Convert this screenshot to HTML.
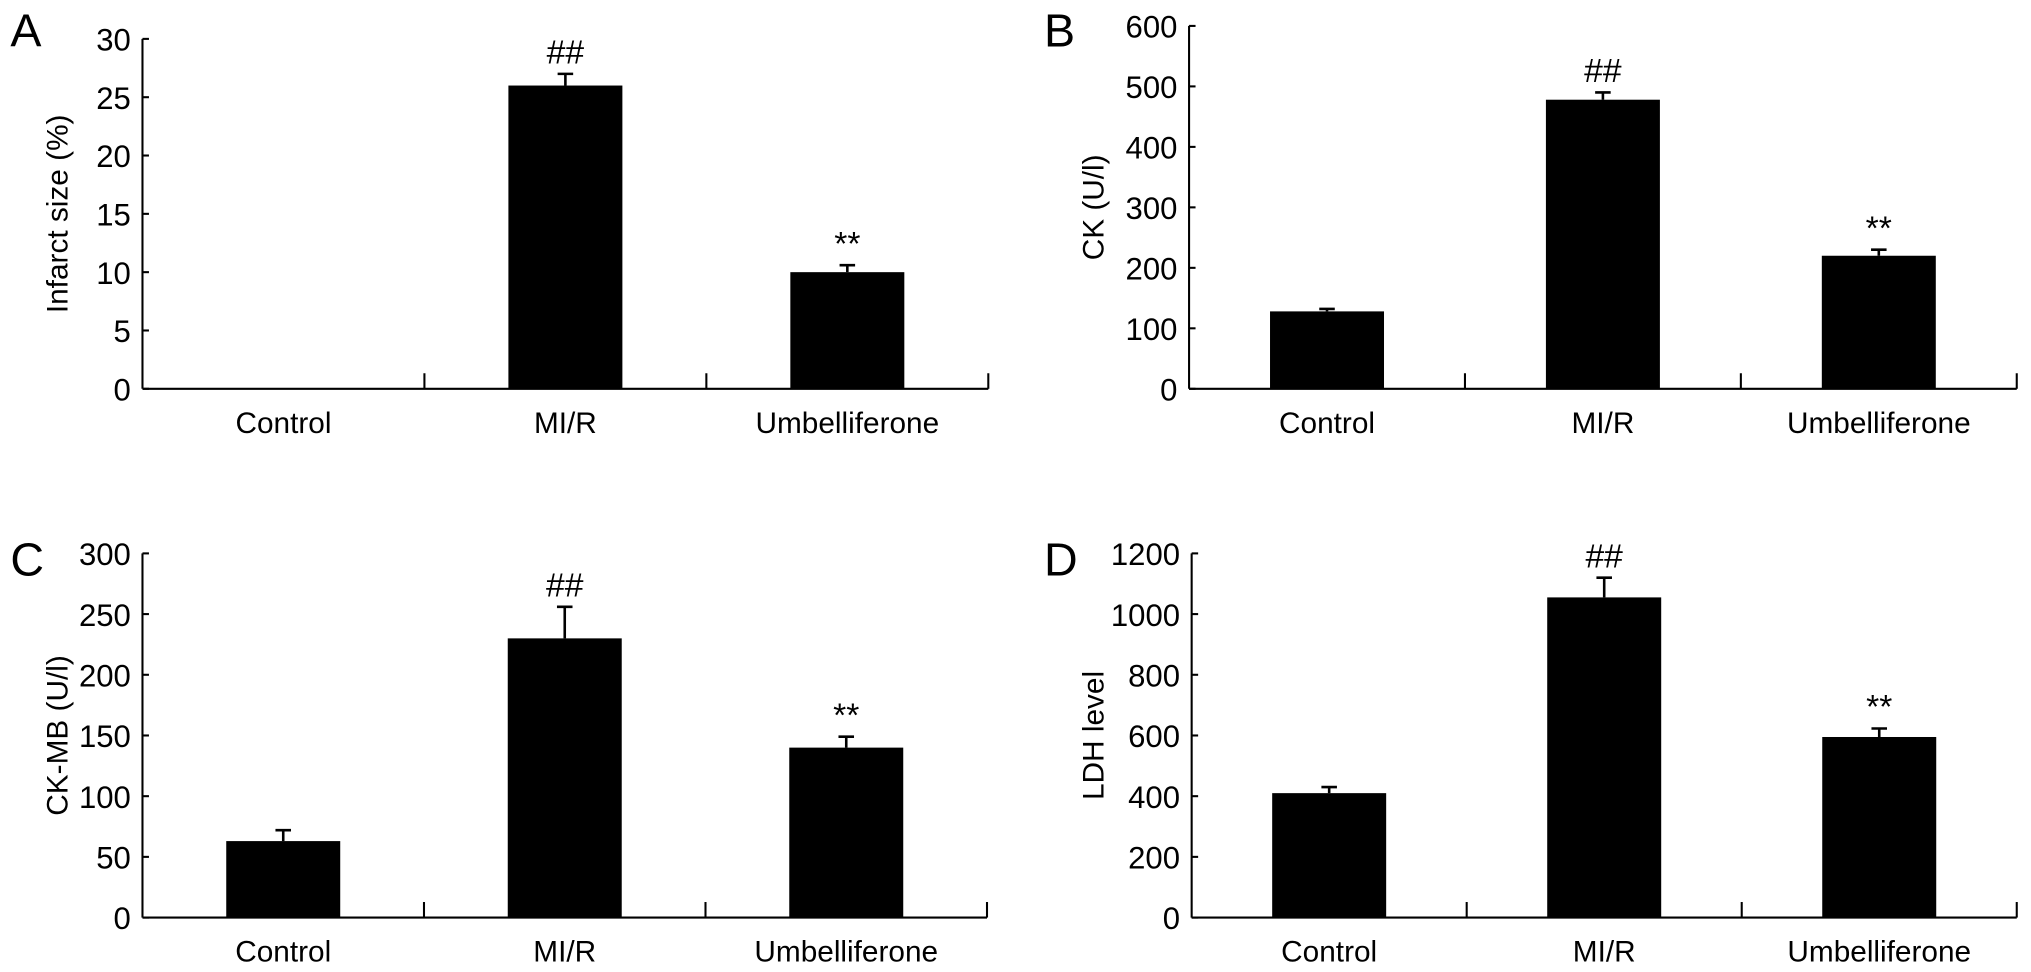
<!DOCTYPE html>
<html><head><meta charset="utf-8"><style>
html,body{margin:0;padding:0;background:#fff;}
svg{display:block;font-family:"Liberation Sans",Arial,sans-serif;}
</style></head><body>
<svg id="fig" width="2031" height="972" viewBox="0 0 1568 750" preserveAspectRatio="none" xmlns="http://www.w3.org/2000/svg"></svg>
<script>
const categories = ["Control","MI/R","Umbelliferone"];
const valuesA = [0, 26, 10];
const errorsA = [0, 1.0, 0.6];
const marksA = ["", "##", "**"];
const ticksA = [0,5,10,15,20,25,30];
const valuesB = [128, 478, 220];
const errorsB = [4, 12, 10];
const marksB = ["", "##", "**"];
const ticksB = [0,100,200,300,400,500,600];
const valuesC = [63, 230, 140];
const errorsC = [9, 26, 9];
const marksC = ["", "##", "**"];
const ticksC = [0,50,100,150,200,250,300];
const valuesD = [410, 1055, 595];
const errorsD = [20, 65, 28];
const marksD = ["", "##", "**"];
const ticksD = [0,200,400,600,800,1000,1200];

const svg = document.getElementById('fig');
const NS = "http://www.w3.org/2000/svg";
function mk(tag, attrs, parent){
  const e = document.createElementNS(NS, tag);
  for (const k in attrs) e.setAttribute(k, attrs[k]);
  (parent||svg).appendChild(e);
  return e;
}
function panel(cfg){
  const g = mk('g', {});
  
  
  const x0 = cfg.x0, x1 = cfg.x1, y0 = cfg.y0, yT = cfg.yT;
  const max = cfg.ticks[cfg.ticks.length-1];
  const yS = v => y0 - (v/max)*(y0-yT);
  const gw = (x1-x0)/3;
  const xC = i => x0 + gw*i + gw/2;
  const bw = 88;
  const L = mk('text', {x: cfg.lx, y: cfg.ly, 'font-size': 36, fill:'#000'}, g);
  L.textContent = cfg.letter;
  
  
  const ya = mk('line', {x1:x0, y1:yT, x2:x0, y2:y0, stroke:'#000', 'stroke-width':1.6}, g);
  
  
  const xa = mk('line', {x1:x0, y1:y0, x2:x1, y2:y0, stroke:'#000', 'stroke-width':1.6}, g);
  
  
  cfg.ticks.forEach(t => {
    const y = yS(t);
    mk('line', {x1:x0, y1:y, x2:x0+5, y2:y, stroke:'#000', 'stroke-width':1.6}, g);
    const tt = mk('text', {x:x0-9, y:y+9, 'font-size':24, 'text-anchor':'end', fill:'#000'}, g);
    tt.textContent = t;
    
    
  });
  for (let i=1;i<=3;i++){
    const x = x0 + gw*i;
    mk('line', {x1:x, y1:y0, x2:x, y2:y0-12, stroke:'#000', 'stroke-width':1.6}, g);
  }
  const yt = mk('text', {x:0, y:0, 'font-size':23, 'text-anchor':'middle', fill:'#000',
    transform:`translate(${cfg.tx},${(y0+yT)/2}) rotate(-90)`}, g);
  yt.textContent = cfg.title;
  
  
  categories.forEach((c,i) => {
    const cx = xC(i);
    const v = cfg.values[i];
    if (v > 0){
      const r = mk('rect', {x:cx-bw/2, y:yS(v), width:bw, height:y0-yS(v), fill:'#000'}, g);
      
      
      const ye = yS(v + cfg.errors[i]);
      const eb = mk('path', {d:`M${cx},${yS(v)} V${ye} M${cx-6},${ye} H${cx+6}`, stroke:'#000', 'stroke-width':2, fill:'none'}, g);
      
      
      if (cfg.marks[i]){
        const m = mk('text', {x:cx, y:ye-8, 'font-size':26, 'text-anchor':'middle', fill:'#000'}, g);
        m.textContent = cfg.marks[i];
        
        
      }
    }
    const cl = mk('text', {x:cx, y:y0+34, 'font-size':23, 'text-anchor':'middle', fill:'#000'}, g);
    cl.textContent = c;
    
    
  });
}
panel({letter:'A', lx:8, ly:36, x0:110, x1:763, y0:300, yT:30, tx:52, title:'Infarct size (%)', ticks:ticksA, values:valuesA, errors:errorsA, marks:marksA});
panel({letter:'B', lx:806, ly:36, x0:918, x1:1557, y0:300, yT:20, tx:852, title:'CK (U/l)', ticks:ticksB, values:valuesB, errors:errorsB, marks:marksB});
panel({letter:'C', lx:8, ly:444, x0:110, x1:762, y0:708, yT:427, tx:52, title:'CK-MB (U/l)', ticks:ticksC, values:valuesC, errors:errorsC, marks:marksC});
panel({letter:'D', lx:806, ly:444, x0:920, x1:1557, y0:708, yT:427, tx:852, title:'LDH level', ticks:ticksD, values:valuesD, errors:errorsD, marks:marksD});
</script>
</body></html>
